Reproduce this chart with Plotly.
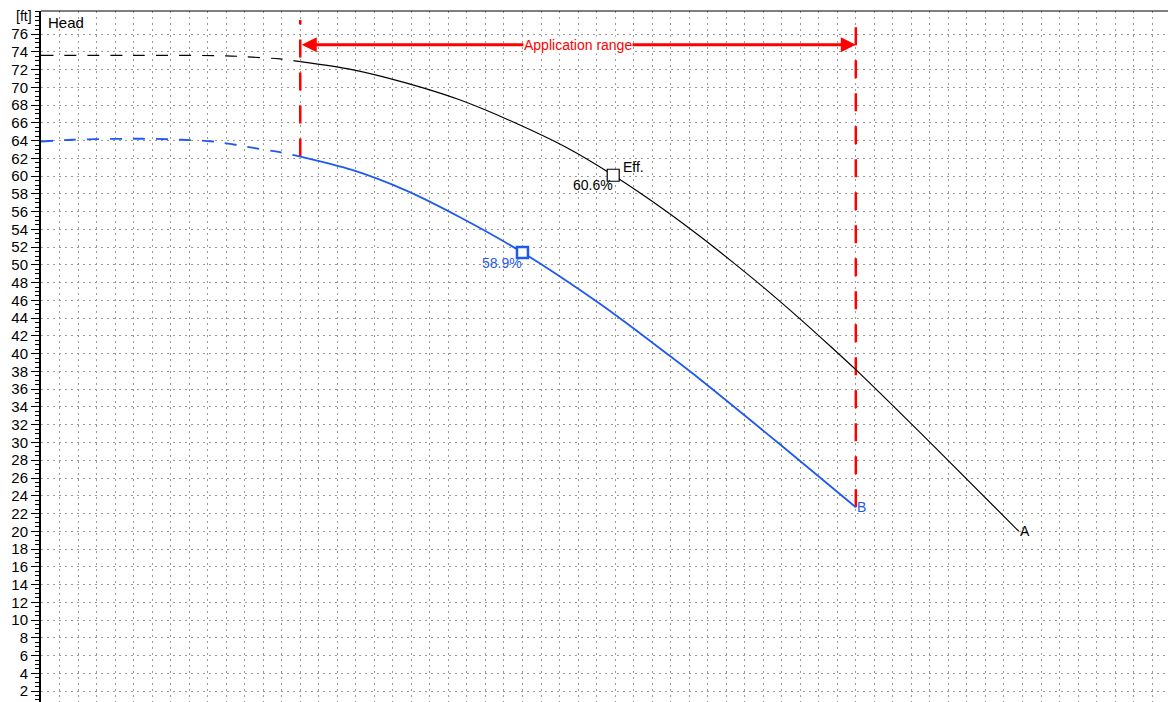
import plotly.graph_objects as go

# ---------------- data ----------------
# Curve A (black): dashed extension below application range, solid inside
flow_a_ext = [0, 50, 100, 114, 129, 140]
head_a_ext = [73.6, 73.6, 73.55, 73.4, 73.2, 72.9]
flow_a = [140, 168, 197, 226, 255, 284, 309, 338, 356, 373, 390, 410, 427, 440, 484, 528]
head_a = [72.9, 72.0, 70.5, 68.6, 66.1, 63.2, 60.1, 56.0, 53.2, 50.4, 47.5, 43.9, 40.7, 38.2, 29.2, 20.0]

# Curve B (blue)
flow_b_ext = [0, 17, 41, 59, 76, 93, 103, 114, 129, 140]
head_b_ext = [63.9, 64.1, 64.2, 64.2, 64.1, 63.9, 63.6, 63.2, 62.7, 62.2]
flow_b = [140, 168, 197, 226, 260, 302, 319, 338, 356, 399, 440]
head_b = [62.2, 60.7, 58.4, 55.4, 51.4, 45.6, 43.0, 40.0, 37.1, 29.8, 22.7]

# efficiency points
eff_a = {"flow": 309, "head": 60.1, "label": "60.6%"}
eff_b = {"flow": 260, "head": 51.4, "label": "58.9%"}

# application range
app_range = [140, 440]
app_top = 77.6
app_arrow_y = 74.8

y_ticks = list(range(2, 78, 2))

BLUE = "#1f5af0"
RED = "#ff0000"
FONT = "Liberation Sans, Arial, sans-serif"

fig = go.Figure()

# red dashed vertical range lines
fig.add_trace(go.Scatter(x=[app_range[0], app_range[0]], y=[head_b_ext[-1], app_top],
                         mode="lines", line=dict(color=RED, width=2.5, dash="18px,15px"),
                         hoverinfo="skip"))
fig.add_trace(go.Scatter(x=[app_range[1], app_range[1]], y=[head_b[-1], app_top],
                         mode="lines", line=dict(color=RED, width=2.5, dash="18px,15px"),
                         hoverinfo="skip"))

# curve A
fig.add_trace(go.Scatter(x=flow_a_ext, y=head_a_ext, mode="lines",
                         line=dict(color="black", width=1.2, dash="12px,11px", shape="spline")))
fig.add_trace(go.Scatter(x=flow_a, y=head_a, mode="lines",
                         line=dict(color="black", width=1.2, shape="spline", smoothing=0.8)))
# curve B
fig.add_trace(go.Scatter(x=flow_b_ext, y=head_b_ext, mode="lines",
                         line=dict(color=BLUE, width=1.8, dash="12px,11px", shape="spline")))
fig.add_trace(go.Scatter(x=flow_b, y=head_b, mode="lines",
                         line=dict(color=BLUE, width=1.8, shape="spline", smoothing=0.8)))

# efficiency markers
fig.add_trace(go.Scatter(x=[eff_a["flow"]], y=[eff_a["head"]], mode="markers",
                         marker=dict(symbol="square", size=12, color="white",
                                     line=dict(color="black", width=1.2))))
fig.add_trace(go.Scatter(x=[eff_b["flow"]], y=[eff_b["head"]], mode="markers",
                         marker=dict(symbol="square", size=11, color="white",
                                     line=dict(color=BLUE, width=2.5))))

annotations = []
# application range arrow (both heads)
annotations.append(dict(x=app_range[1], y=app_arrow_y, ax=app_range[0], ay=app_arrow_y,
                        xref="x", yref="y", axref="x", ayref="y", text="",
                        showarrow=True, arrowhead=2, arrowside="end+start",
                        arrowwidth=3, arrowsize=1, arrowcolor=RED, standoff=0, startstandoff=0))
annotations.append(dict(x=(app_range[0] + app_range[1]) / 2, y=app_arrow_y, xref="x", yref="y",
                        text="Application range", showarrow=False, bgcolor="white", borderpad=0,
                        font=dict(family=FONT, size=14, color=RED)))
# efficiency labels
annotations.append(dict(x=eff_a["flow"], y=eff_a["head"], xref="x", yref="y", text="Eff.",
                        showarrow=False, xanchor="left", yanchor="middle", xshift=8, yshift=8,
                        font=dict(family=FONT, size=14, color="black")))
annotations.append(dict(x=eff_a["flow"], y=eff_a["head"], xref="x", yref="y", text=eff_a["label"],
                        showarrow=False, xanchor="right", yanchor="middle", xshift=2, yshift=-10,
                        font=dict(family=FONT, size=14, color="black")))
annotations.append(dict(x=eff_b["flow"], y=eff_b["head"], xref="x", yref="y", text=eff_b["label"],
                        showarrow=False, xanchor="right", yanchor="middle", xshift=2, yshift=-11,
                        font=dict(family=FONT, size=14, color=BLUE)))
# curve end labels
annotations.append(dict(x=flow_b[-1], y=head_b[-1], xref="x", yref="y", text="B",
                        showarrow=False, xanchor="left", yanchor="middle", xshift=-1,
                        font=dict(family=FONT, size=14, color=BLUE)))
annotations.append(dict(x=flow_a[-1], y=head_a[-1], xref="x", yref="y", text="A",
                        showarrow=False, xanchor="left", yanchor="middle", xshift=-1,
                        font=dict(family=FONT, size=14, color="black")))
# axis title texts
annotations.append(dict(x=0.004, y=0.984, xref="paper", yref="paper", text="Head",
                        showarrow=False, xanchor="left", yanchor="middle",
                        font=dict(family=FONT, size=15, color="black")))
annotations.append(dict(x=-0.006, y=0.993, xref="paper", yref="paper", text="[ft]",
                        showarrow=False, xanchor="right", yanchor="middle",
                        font=dict(family=FONT, size=14, color="black")))

grid_color = "#9a9a9a"
# page body has an 8px margin: shrink figure so the plot area lands where the reference has it
fig.update_layout(
    width=1168, height=694,
    margin=dict(l=33, r=0, t=3, b=0),
    paper_bgcolor="white", plot_bgcolor="white",
    showlegend=False,
    annotations=annotations,
    font=dict(family=FONT, size=14, color="black"),
    shapes=[dict(type="line", xref="paper", yref="paper", x0=0, x1=1, y0=1, y1=1,
                 line=dict(color="black", width=1.2))],
    xaxis=dict(range=[0, 612.9], dtick=10, tick0=0, showgrid=True, gridcolor=grid_color,
               griddash="2px,4px", gridwidth=1, showticklabels=False, ticks="",
               zeroline=False, showline=False),
    yaxis=dict(range=[0.77, 78.6], tickvals=y_ticks, showgrid=True, gridcolor=grid_color,
               griddash="2px,4px", gridwidth=1, zeroline=False, showline=True,
               linecolor="black", linewidth=2, ticks="outside", ticklen=8, tickwidth=1,
               tickcolor="black", tickfont=dict(family=FONT, size=15, color="black"),
               minor=dict(dtick=0.5, tick0=0, ticks="outside", ticklen=4, tickcolor="black",
                          tickwidth=1, showgrid=False)),
)

fig.write_html("out.html")
